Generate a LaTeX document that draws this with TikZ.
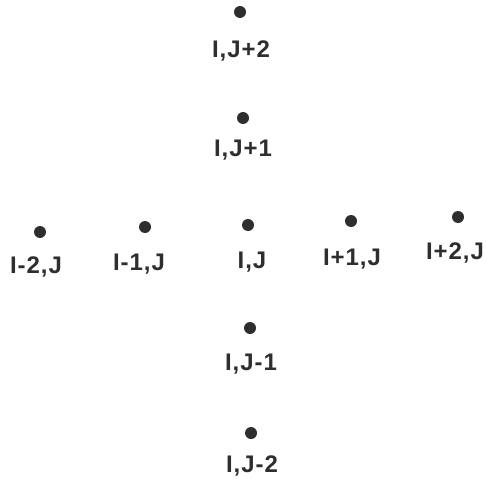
\documentclass[tikz,border=0pt]{standalone}
\usepackage{fontspec}
\setmainfont{Liberation Sans}[LetterSpace=4]
\begin{document}
\begin{tikzpicture}[x=1pt,y=-1pt,
  gridpt/.style={circle,fill=black!82,inner sep=0pt,minimum size=12pt},
  gridlbl/.style={font=\fontsize{24}{28}\selectfont\bfseries,text=black!82,inner sep=0pt,anchor=base}]
\useasboundingbox (0,0) rectangle (486,481);
% vertical column of stencil points
\node[gridpt] (p02) at (240,12) {};
\node[gridlbl] (l02) at (241,58) {I,J+2};
\node[gridpt] (p01) at (243,118) {};
\node[gridlbl] (l01) at (243,157) {I,J+1};
% horizontal row
\node[gridpt] (m2) at (40,232) {};
\node[gridlbl] (lm2) at (36,273) {I-2,J};
\node[gridpt] (m1) at (145,227) {};
\node[gridlbl] (lm1) at (139,270) {I-1,J};
\node[gridpt] (c) at (248,225) {};
\node[gridlbl] (lc) at (252,268) {I,J};
\node[gridpt] (p1) at (351,221) {};
\node[gridlbl] (lp1) at (352,265) {I+1,J};
\node[gridpt] (p2) at (458,217) {};
\node[gridlbl] (lp2) at (455,259) {I+2,J};
% lower column
\node[gridpt] (q1) at (250,328) {};
\node[gridlbl] (lq1) at (251,370) {I,J-1};
\node[gridpt] (q2) at (251,433) {};
\node[gridlbl] (lq2) at (252,472) {I,J-2};
\end{tikzpicture}
\end{document}
